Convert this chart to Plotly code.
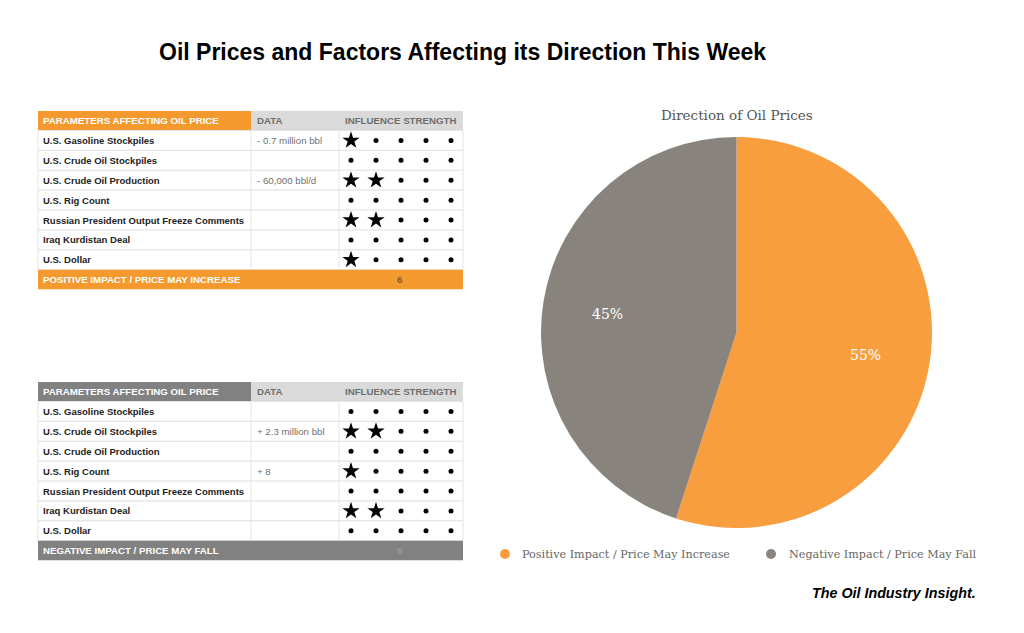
import math
import plotly.graph_objects as go

# ---------------- data ----------------
parameters = [
    "U.S. Gasoline Stockpiles",
    "U.S. Crude Oil Stockpiles",
    "U.S. Crude Oil Production",
    "U.S. Rig Count",
    "Russian President Output Freeze Comments",
    "Iraq Kurdistan Deal",
    "U.S. Dollar",
]
pos_data = ["- 0.7 million bbl", "", "- 60,000 bbl/d", "", "", "", ""]
pos_strength = [1, 0, 2, 0, 2, 0, 1]
neg_data = ["", "+ 2.3 million bbl", "", "+ 8", "", "", ""]
neg_strength = [0, 2, 0, 1, 0, 2, 0]
pos_total = 6
neg_total = 5
header_labels = ["PARAMETERS AFFECTING OIL PRICE", "DATA", "INFLUENCE STRENGTH"]
pos_footer = "POSITIVE IMPACT / PRICE MAY INCREASE"
neg_footer = "NEGATIVE IMPACT / PRICE MAY FALL"
pie_labels = ["Positive Impact / Price May Increase", "Negative Impact / Price May Fall"]
pie_values = [55, 45]
max_strength = 5

# ---------------- styles ----------------
W, H = 1024, 633
ORANGE = "#F4992D"
PIE_ORANGE = "#F99E3E"
PIE_GRAY = "#88847D"
DARK_GRAY = "#818181"
LIGHT_HDR = "#DADADA"
BORDER = "#E4E4E4"
SANS = "Liberation Sans, Arial, sans-serif"
SERIF = "DejaVu Serif, serif"

X0, X1, X2, X3 = 38, 251, 339, 463
HDR_H = 19.5
ROW_H = 19.9
FOOT_H = 19.5
dot_x0, dot_dx = 351, 25
FS = 9.7

fig = go.Figure()
shapes = []
annotations = []


def build_table(top, header_color, footer_color, data_vals, strengths, footer_text, total, total_color):
    shapes.append(dict(type="rect", x0=X0, x1=X1, y0=top, y1=top + HDR_H,
                       fillcolor=header_color, line_width=0, layer="below"))
    shapes.append(dict(type="rect", x0=X1, x1=X3, y0=top, y1=top + HDR_H,
                       fillcolor=LIGHT_HDR, line_width=0, layer="below"))
    hy = top + HDR_H / 2
    annotations.append(dict(x=X0 + 3, y=hy, text="<b>%s</b>" % header_labels[0], showarrow=False,
                            xanchor="left", yanchor="middle", font=dict(family=SANS, size=FS, color="white")))
    annotations.append(dict(x=X1 + 4, y=hy, text="<b>%s</b>" % header_labels[1], showarrow=False,
                            xanchor="left", yanchor="middle", font=dict(family=SANS, size=FS, color="#6E6E6E")))
    annotations.append(dict(x=343, y=hy, text="<b>%s</b>" % header_labels[2], showarrow=False,
                            xanchor="left", yanchor="middle", font=dict(family=SANS, size=FS, color="#6E6E6E")))
    body_top = top + HDR_H
    n = len(parameters)
    for i in range(n):
        y0 = body_top + i * ROW_H
        shapes.append(dict(type="rect", x0=X0, x1=X3, y0=y0, y1=y0 + ROW_H,
                           fillcolor="white", line=dict(color=BORDER, width=1), layer="below"))
        yc = y0 + ROW_H / 2
        annotations.append(dict(x=X0 + 3, y=yc, text="<b>%s</b>" % parameters[i], showarrow=False,
                                xanchor="left", yanchor="middle", font=dict(family=SANS, size=9.5, color="#222222")))
        if data_vals[i]:
            annotations.append(dict(x=X1 + 4, y=yc, text=data_vals[i], showarrow=False,
                                    xanchor="left", yanchor="middle", font=dict(family=SANS, size=FS, color="#707070")))
    body_bot = body_top + n * ROW_H
    for xv in (X1, X2):
        shapes.append(dict(type="line", x0=xv, x1=xv, y0=body_top, y1=body_bot,
                           line=dict(color=BORDER, width=1), layer="below"))
    sx, sy, dx, dy = [], [], [], []
    for i, s in enumerate(strengths):
        yc = body_top + i * ROW_H + ROW_H / 2
        for k in range(max_strength):
            xk = dot_x0 + k * dot_dx
            if k < s:
                sx.append(xk); sy.append(yc)
            else:
                dx.append(xk); dy.append(yc)
    fig.add_trace(go.Scatter(x=sx, y=sy, mode="markers", hoverinfo="skip", showlegend=False,
                             marker=dict(symbol="star", size=13, color="black", line_width=0)))
    fig.add_trace(go.Scatter(x=dx, y=dy, mode="markers", hoverinfo="skip", showlegend=False,
                             marker=dict(symbol="circle", size=5, color="black", line_width=0)))
    shapes.append(dict(type="rect", x0=X0, x1=X3, y0=body_bot, y1=body_bot + FOOT_H,
                       fillcolor=footer_color, line_width=0, layer="below"))
    fy = body_bot + FOOT_H / 2
    annotations.append(dict(x=X0 + 3, y=fy, text="<b>%s</b>" % footer_text, showarrow=False,
                            xanchor="left", yanchor="middle", font=dict(family=SANS, size=FS, color="white")))
    annotations.append(dict(x=400, y=fy, text="<b>%d</b>" % total, showarrow=False,
                            xanchor="center", yanchor="middle", font=dict(family=SANS, size=FS, color=total_color)))


build_table(111, ORANGE, ORANGE, pos_data, pos_strength, pos_footer, pos_total, "#8A5A1E")
build_table(382, DARK_GRAY, DARK_GRAY, neg_data, neg_strength, neg_footer, neg_total, "#9A9A9A")

# ---------------- pie ----------------
pcx0, pcx1 = 541, 932
pcy0, pcy1 = 137, 528
fig.add_trace(go.Pie(
    labels=pie_labels, values=pie_values, sort=False, direction="clockwise", rotation=0,
    marker=dict(colors=[PIE_ORANGE, PIE_GRAY], line=dict(width=0)),
    textinfo="none",
    domain=dict(x=[pcx0 / W, pcx1 / W], y=[1 - pcy1 / H, 1 - pcy0 / H]),
    showlegend=False, hoverinfo="label+percent",
))

# percent labels placed at slice mid-angles
cx, cy = (pcx0 + pcx1) / 2, (pcy0 + pcy1) / 2
R = (pcx1 - pcx0) / 2
total_v = sum(pie_values)
cum = 0
for v in pie_values:
    mid = (cum + v / 2) / total_v * 2 * math.pi
    cum += v
    annotations.append(dict(x=cx + 0.67 * R * math.sin(mid), y=cy - 0.67 * R * math.cos(mid) + 2,
                            text="%d%%" % round(100 * v / total_v), showarrow=False,
                            xanchor="center", yanchor="middle",
                            font=dict(family=SERIF, size=14, color="white")))

annotations.append(dict(x=737, y=115, text="Direction of Oil Prices", showarrow=False,
                        xanchor="center", yanchor="middle",
                        font=dict(family=SERIF, size=13.5, color="#555555")))

# custom legend
leg_items = [(505, 520, PIE_ORANGE, pie_labels[0]), (771, 787, PIE_GRAY, pie_labels[1])]
lx, ly, lc = [], [], []
for mx, tx, col, lab in leg_items:
    lx.append(mx); ly.append(554); lc.append(col)
    annotations.append(dict(x=tx, y=554, text=lab, showarrow=False, xanchor="left", yanchor="middle",
                            font=dict(family=SERIF, size=11.2, color="#666666")))
fig.add_trace(go.Scatter(x=lx, y=ly, mode="markers", hoverinfo="skip", showlegend=False,
                         marker=dict(symbol="circle", size=10, color=lc, line_width=0)))

annotations.append(dict(x=462, y=52, text="<b>Oil Prices and Factors Affecting its Direction This Week</b>",
                        showarrow=False, xanchor="center", yanchor="middle",
                        font=dict(family=SANS, size=23, color="black")))
annotations.append(dict(x=978, y=593, text="<b><i>The Oil Industry Insight.</i></b>",
                        showarrow=False, xanchor="right", yanchor="middle",
                        font=dict(family=SANS, size=14.3, color="black")))

fig.update_layout(
    width=W, height=H, margin=dict(l=0, r=0, t=0, b=0),
    paper_bgcolor="white", plot_bgcolor="white",
    xaxis=dict(range=[0, W], visible=False, fixedrange=True, domain=[0, 1]),
    yaxis=dict(range=[H, 0], visible=False, fixedrange=True, domain=[0, 1]),
    shapes=shapes, annotations=annotations, showlegend=False,
)

fig.write_html("out.html", config={"displayModeBar": False},
               post_script="document.body.style.margin='0px';")
